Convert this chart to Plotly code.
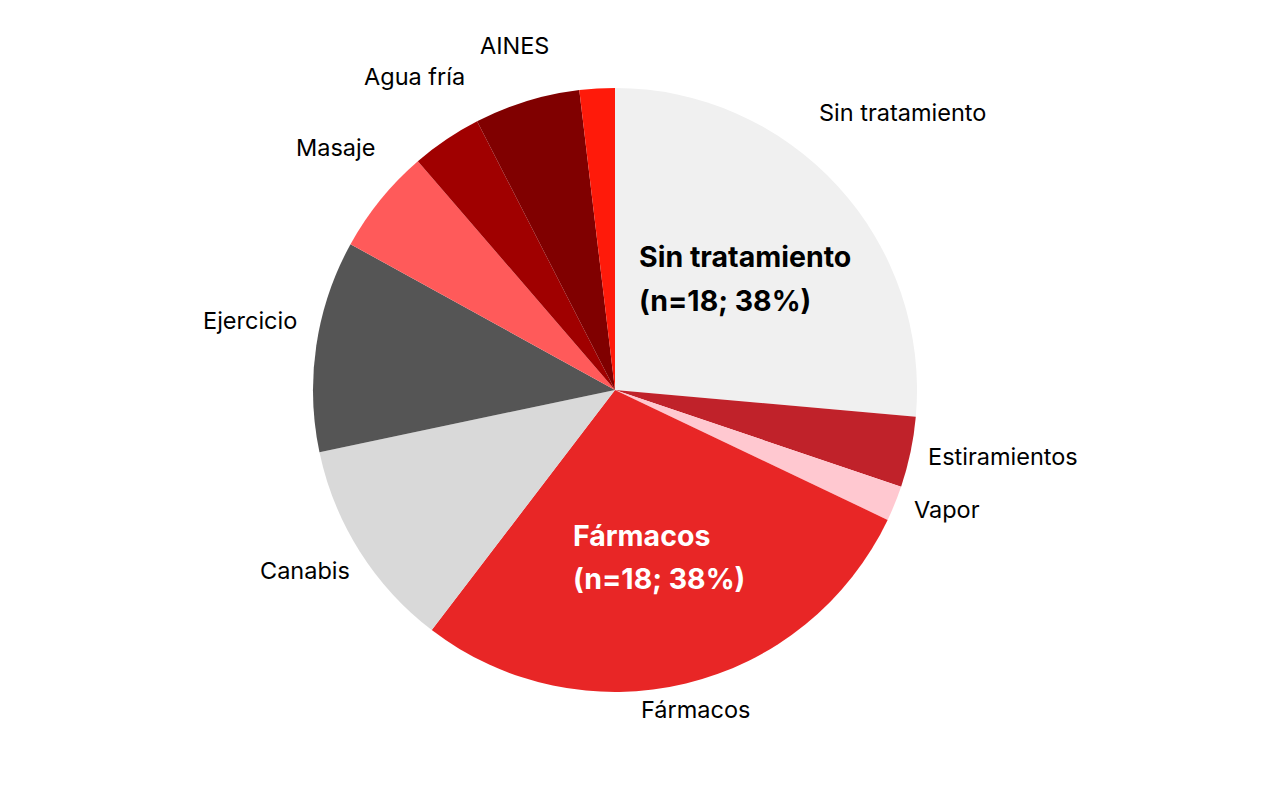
import math
import plotly.graph_objects as go

labels = ["Sin tratamiento", "Estiramientos", "Vapor", "Fármacos", "Canabis",
          "Ejercicio", "Masaje", "Agua fría", "AINES", "Otros"]
values = [14, 2, 1, 15, 6, 6, 3, 2, 3, 1]
shown_text = ["Sin tratamiento", "Estiramientos", "Vapor", "Fármacos", "Canabis",
              "Ejercicio", "Masaje", "Agua fría", "AINES", ""]
colors = ["#f0f0f0", "#c0222a", "#ffc8d0", "#e82626", "#d9d9d9",
          "#555555", "#ff5a5a", "#a00000", "#800000", "#ff1a0a"]

highlight_lines = [
    ("Sin tratamiento", "(n=18; 38%)", "#000000"),
    ("Fármacos", "(n=18; 38%)", "#ffffff"),
]

FONT = "Inter"
W, H = 1276, 792
OFF = 8  # page body margin
CX, CY, R = 615 - OFF, 390 - OFF, 302
LABEL_SIZE = 23.5
BIG_SIZE = 28.5

# approximate glyph advance widths (em) for label centring
CW = {"a": .55, "b": .6, "c": .54, "d": .6, "e": .56, "f": .34, "g": .6, "i": .24,
      "j": .24, "l": .24, "m": .87, "n": .59, "o": .58, "p": .6, "r": .37, "s": .5,
      "t": .35, "u": .59, "v": .53, "í": .24, "á": .55, " ": .26, "A": .68, "C": .7,
      "E": .57, "F": .55, "I": .27, "M": .84, "N": .73, "S": .62, "V": .68}


def text_width(s, size):
    return sum(CW.get(ch, .56) for ch in s) * size


fig = go.Figure(go.Pie(
    labels=labels,
    values=values,
    textinfo="none",
    sort=False,
    direction="clockwise",
    rotation=0,
    marker=dict(colors=colors, line=dict(width=0)),
    showlegend=False,
    hoverinfo="label+value+percent",
    domain=dict(x=[(CX - R) / W, (CX + R) / W], y=[1 - (CY + R) / H, 1 - (CY - R) / H]),
))

annotations = []
total = sum(values)
cum = 0
for lab, v in zip(shown_text, values):
    theta = math.radians((cum + v / 2) / total * 360)
    cum += v
    if not lab:
        continue
    ux, uy = math.sin(theta), -math.cos(theta)
    hw = text_width(lab, LABEL_SIZE) / 2
    hh = 14
    target = 322
    d = 0.0
    while True:
        bx, by = d * ux, d * uy
        ddx = max(abs(bx) - hw, 0)
        ddy = max(abs(by) - hh, 0)
        if math.hypot(ddx, ddy) >= target:
            break
        d += 0.5
    px, py = CX + d * ux, CY + d * uy - 15
    annotations.append(dict(
        text=lab, x=px / W, y=1 - py / H, xref="paper", yref="paper",
        xanchor="center", yanchor="middle", showarrow=False,
        font=dict(family=FONT, size=LABEL_SIZE, color="#000000")))

big_pos = [(637 - OFF, 256 - OFF, 300 - OFF), (571 - OFF, 535 - OFF, 578 - OFF)]
for (l1, l2, col), (px, y1, y2) in zip(highlight_lines, big_pos):
    for txt, py in ((l1, y1), (l2, y2)):
        annotations.append(dict(
            text=f"<b>{txt}</b>", x=px / W, y=1 - py / H, xref="paper", yref="paper",
            xanchor="left", yanchor="middle", showarrow=False, align="left",
            font=dict(family=FONT, size=BIG_SIZE, color=col)))

fig.update_layout(
    width=W, height=H,
    margin=dict(l=0, r=0, t=0, b=0),
    paper_bgcolor="white",
    plot_bgcolor="white",
    font=dict(family=FONT),
    annotations=annotations,
)

fig.write_html("out.html")
